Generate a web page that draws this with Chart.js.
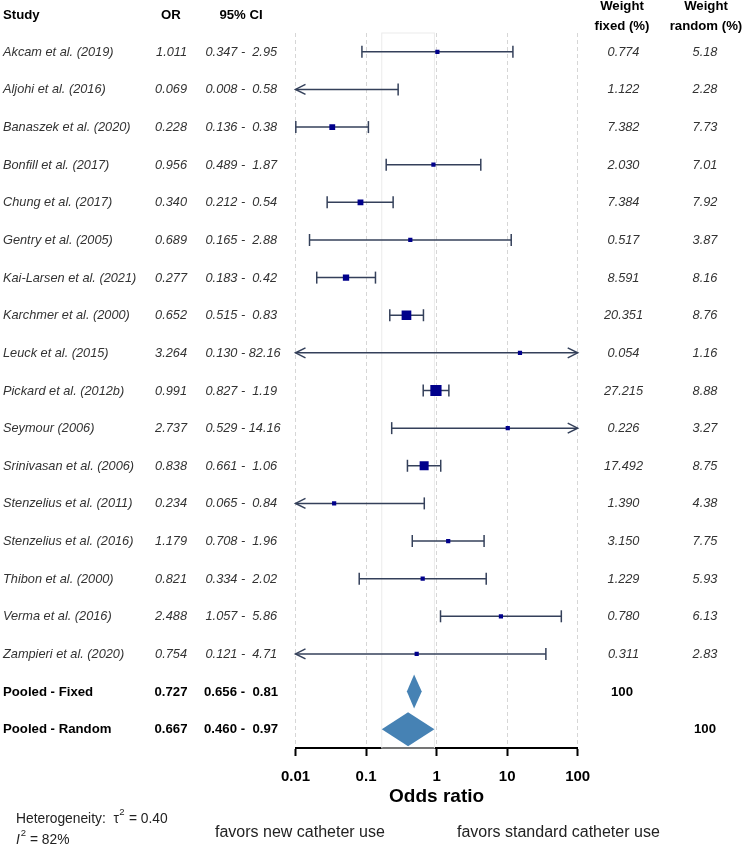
<!DOCTYPE html>
<html>
<head>
<meta charset="utf-8">
<script src="https://cdn.jsdelivr.net/npm/chart.js@4.4.1/dist/chart.umd.min.js"></script>
<style>
  html, body { margin: 0; padding: 0; background: #fff; }
  #wrap { width: 744px; height: 845px; }
</style>
</head>
<body>
<div id="wrap"><canvas id="forest" width="744" height="845"></canvas></div>
<script>
const studies = [
  "Akcam et al. (2019)", "Aljohi et al. (2016)", "Banaszek et al. (2020)",
  "Bonfill et al. (2017)", "Chung et al. (2017)", "Gentry et al. (2005)",
  "Kai-Larsen et al. (2021)", "Karchmer et al. (2000)", "Leuck et al. (2015)",
  "Pickard et al. (2012b)", "Seymour (2006)", "Srinivasan et al. (2006)",
  "Stenzelius et al. (2011)", "Stenzelius et al. (2016)", "Thibon et al. (2000)",
  "Verma et al. (2016)", "Zampieri et al. (2020)"
];
const orValue = [1.011, 0.069, 0.228, 0.956, 0.340, 0.689, 0.277, 0.652, 3.264,
  0.991, 2.737, 0.838, 0.234, 1.179, 0.821, 2.488, 0.754];
const ciLow = [0.347, 0.008, 0.136, 0.489, 0.212, 0.165, 0.183, 0.515, 0.130,
  0.827, 0.529, 0.661, 0.065, 0.708, 0.334, 1.057, 0.121];
const ciHigh = [2.95, 0.58, 0.38, 1.87, 0.54, 2.88, 0.42, 0.83, 82.16,
  1.19, 14.16, 1.06, 0.84, 1.96, 2.02, 5.86, 4.71];
const weightFixed = [0.774, 1.122, 7.382, 2.030, 7.384, 0.517, 8.591, 20.351, 0.054,
  27.215, 0.226, 17.492, 1.390, 3.150, 1.229, 0.780, 0.311];
const weightRandom = [5.18, 2.28, 7.73, 7.01, 7.92, 3.87, 8.16, 8.76, 1.16,
  8.88, 3.27, 8.75, 4.38, 7.75, 5.93, 6.13, 2.83];

// where the marks sit on the drawn axis (null = runs past the edge of the axis)
const markOR = [1.026, null, 0.0332, 0.902, 0.0834, 0.424, 0.052, 0.374, 15.2,
  0.979, 10.2, 0.666, 0.0353, 1.46, 0.635, 8.16, 0.522];
const markLo = [0.0874, null, 0.0101, 0.193, 0.0281, 0.0158, 0.020, 0.217, null,
  0.646, 0.231, 0.386, null, 0.452, 0.080, 1.136, null];
const markHi = [12.07, 0.285, 0.108, 4.23, 0.242, 11.42, 0.136, 0.651, null,
  1.493, null, 1.144, 0.669, 4.71, 5.05, 58.6, 35.4];

const pooledLabels = ["Pooled - Fixed", "Pooled - Random"];
const pooledOR = [0.727, 0.667];
const pooledLow = [0.656, 0.460];
const pooledHigh = [0.81, 0.97];
const pooledMark = [0.480, 0.394];
const pooledMarkLo = [0.379, 0.167];
const pooledMarkHi = [0.616, 0.932];

const xTicks = [0.01, 0.1, 1, 10, 100];

const FONT = "'Liberation Sans', Arial, sans-serif";
const lineColour = "#34405a";
const boxColour = "#00008b";
const diamondColour = "#4682b4";
const nRows = studies.length + pooledLabels.length;

function ciString(lo, hi) {
  return lo.toFixed(3) + " - " + hi.toFixed(2).padStart(5, " ");
}

function drawEnd(ctx, px, py, kind) {
  ctx.beginPath();
  if (kind === "cap") {
    ctx.moveTo(px, py - 6);
    ctx.lineTo(px, py + 6);
  } else {
    const d = kind === "left" ? 10 : -10;
    ctx.moveTo(px + d, py - 5);
    ctx.lineTo(px, py);
    ctx.lineTo(px + d, py + 5);
  }
  ctx.stroke();
}

function text(ctx, str, x, y, align, font, colour) {
  ctx.font = font;
  ctx.textAlign = align;
  ctx.textBaseline = "middle";
  ctx.fillStyle = colour;
  ctx.fillText(str, x, y);
}

const forestDecor = {
  id: "forestDecor",
  beforeDatasetsDraw(chart) {
    const { ctx, chartArea: a, scales: { x, y } } = chart;
    ctx.save();

    // faint frame over the random-effects interval
    const b0 = x.getPixelForValue(pooledMarkLo[1]);
    const b1 = x.getPixelForValue(pooledMarkHi[1]);
    ctx.strokeStyle = "#ebebeb";
    ctx.lineWidth = 1;
    ctx.strokeRect(b0, a.top, b1 - b0, a.bottom - a.top);

    // confidence intervals
    ctx.strokeStyle = lineColour;
    ctx.lineWidth = 1.5;
    studies.forEach((s, i) => {
      const py = y.getPixelForValue(i);
      const x0 = markLo[i] == null ? a.left : x.getPixelForValue(markLo[i]);
      const x1 = markHi[i] == null ? a.right : x.getPixelForValue(markHi[i]);
      ctx.beginPath();
      ctx.moveTo(x0, py);
      ctx.lineTo(x1, py);
      ctx.stroke();
      drawEnd(ctx, x0, py, markLo[i] == null ? "left" : "cap");
      drawEnd(ctx, x1, py, markHi[i] == null ? "right" : "cap");
    });
    ctx.restore();
  },
  afterDatasetsDraw(chart) {
    const { ctx, scales: { x, y } } = chart;
    ctx.save();

    // pooled diamonds
    ctx.fillStyle = diamondColour;
    pooledLabels.forEach((p, k) => {
      const py = y.getPixelForValue(studies.length + k);
      ctx.beginPath();
      ctx.moveTo(x.getPixelForValue(pooledMarkLo[k]), py);
      ctx.lineTo(x.getPixelForValue(pooledMark[k]), py - 17);
      ctx.lineTo(x.getPixelForValue(pooledMarkHi[k]), py);
      ctx.lineTo(x.getPixelForValue(pooledMark[k]), py + 17);
      ctx.closePath();
      ctx.fill();
    });

    // table
    const head = "bold 13.2px " + FONT;
    const row = "italic 12.75px " + FONT;
    text(ctx, "Study", 3, 15, "left", head, "#000");
    text(ctx, "OR", 171, 15, "center", head, "#000");
    text(ctx, "95% CI", 241, 15, "center", head, "#000");
    text(ctx, "Weight", 622, 6, "center", head, "#000");
    text(ctx, "fixed (%)", 622, 26, "center", head, "#000");
    text(ctx, "Weight", 706, 6, "center", head, "#000");
    text(ctx, "random (%)", 706, 26, "center", head, "#000");

    studies.forEach((s, i) => {
      const py = y.getPixelForValue(i) + 0.5;
      text(ctx, s, 3, py, "left", row, "#333");
      text(ctx, orValue[i].toFixed(3), 187, py, "right", row, "#333");
      text(ctx, ciString(ciLow[i], ciHigh[i]), 205.5, py, "left", row, "#333");
      text(ctx, weightFixed[i].toFixed(3), 623.5, py, "center", row, "#333");
      text(ctx, weightRandom[i].toFixed(2), 705, py, "center", row, "#333");
    });

    pooledLabels.forEach((p, k) => {
      const py = y.getPixelForValue(studies.length + k) + 0.5;
      text(ctx, p, 3, py, "left", head, "#000");
      text(ctx, pooledOR[k].toFixed(3), 187.5, py, "right", head, "#000");
      text(ctx, ciString(pooledLow[k], pooledHigh[k]), 204, py, "left", head, "#000");
      text(ctx, "100", k === 0 ? 622 : 705, py, "center", head, "#000");
    });

    // heterogeneity and direction notes
    const note = "13.8px " + FONT;
    const sup = "9.5px " + FONT;
    let tx = 16;
    text(ctx, "Heterogeneity:  \u03c4", tx, 819, "left", note, "#222");
    ctx.font = note;
    tx += ctx.measureText("Heterogeneity:  \u03c4").width;
    text(ctx, "2", tx + 0.5, 812, "left", sup, "#222");
    ctx.font = sup;
    tx += ctx.measureText("2").width + 1;
    text(ctx, " = 0.40", tx, 819, "left", note, "#222");

    tx = 16;
    text(ctx, "I", tx, 840, "left", "italic " + note, "#222");
    ctx.font = "italic " + note;
    tx += ctx.measureText("I").width + 1;
    text(ctx, "2", tx, 833, "left", sup, "#222");
    ctx.font = sup;
    tx += ctx.measureText("2").width;
    text(ctx, " = 82%", tx, 840, "left", note, "#222");

    const side = "16px " + FONT;
    text(ctx, "favors new catheter use", 215, 833, "left", side, "#222");
    text(ctx, "favors standard catheter use", 457, 833, "left", side, "#222");
    ctx.restore();
  }
};

const boxPoints = [];
const boxRadius = [];
studies.forEach((s, i) => {
  if (markOR[i] == null) return;
  boxPoints.push({ x: markOR[i], y: i });
  const sideLen = Math.max(4.2, 2.15 * Math.sqrt(weightFixed[i]));
  boxRadius.push(sideLen / Math.SQRT2);
});

new Chart(document.getElementById("forest"), {
  type: "scatter",
  data: {
    datasets: [{
      data: boxPoints,
      pointStyle: "rect",
      pointRadius: boxRadius,
      backgroundColor: boxColour,
      borderWidth: 0
    }]
  },
  options: {
    responsive: false,
    animation: false,
    events: [],
    layout: { padding: { left: 295.5, right: 166.3, top: 33, bottom: 0 } },
    plugins: { legend: { display: false }, tooltip: { enabled: false } },
    scales: {
      x: {
        type: "logarithmic",
        min: 0.01,
        max: 100,
        afterBuildTicks: s => { s.ticks = xTicks.map(v => ({ value: v })); },
        afterFit: s => { s.height = 97; },
        ticks: {
          callback: v => String(v),
          color: "#000",
          padding: 12,
          autoSkip: false,
          maxRotation: 0,
          font: { family: FONT, size: 15, weight: "bold" }
        },
        grid: { color: "#d6d6d6", lineWidth: 1, tickColor: "#000", tickLength: 8, tickWidth: 2 },
        border: { display: true, color: "#000", width: 2, dash: [4, 3] },
        title: {
          display: true,
          text: "Odds ratio",
          color: "#000",
          font: { family: FONT, size: 19, weight: "bold" },
          padding: { top: 0, bottom: 37 }
        }
      },
      y: {
        display: false,
        reverse: true,
        min: -0.5,
        max: nRows - 0.5
      }
    }
  },
  plugins: [forestDecor]
});
</script>
</body>
</html>
